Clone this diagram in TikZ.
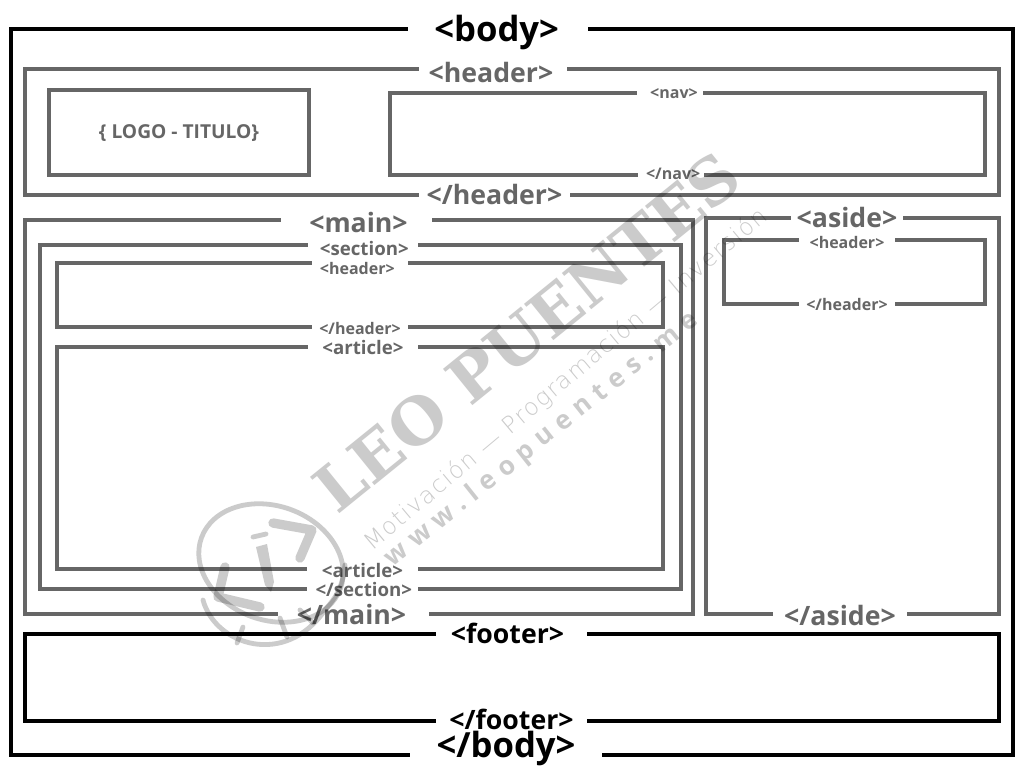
\documentclass[tikz,border=0pt]{standalone}
\usepackage{fontspec}
\setmainfont{Open Sans}
\newfontfamily\wmslab{DejaVu Serif}
\newfontfamily\wmthin[LetterSpace=6]{DejaVu Sans ExtraLight}
\newfontfamily\wmweb[LetterSpace=30]{Open Sans}
\usetikzlibrary{positioning}
\definecolor{tagg}{HTML}{666666}
\definecolor{wmk}{HTML}{CBCBCB}

\begin{document}
\begin{tikzpicture}[x=0.75pt,y=-0.75pt,
  bx/.style={draw=tagg,line width=3pt,anchor=north west,inner sep=0pt,outer sep=0pt},
  blk/.style={bx,draw=black},
  tg/.style={fill=white,inner sep=0pt,text=tagg,font=\bfseries},
  xl/.style={tg,font=\bfseries\fontsize{26}{26}\selectfont,text=black},
  lg/.style={tg,font=\bfseries\fontsize{20}{20}\selectfont},
  md/.style={tg,font=\bfseries\fontsize{14}{14}\selectfont},
  sm/.style={tg,font=\bfseries\fontsize{12}{12}\selectfont},
  wm/.style={line width=3.6pt,draw=wmk,line cap=round,line join=round}]
\useasboundingbox (0,0) rectangle (1024,768);
\fill[white] (0,0) rectangle (1024,768);
% outer boxes
\node[blk,minimum width=751.5pt,minimum height=544.5pt] (body) at (11,29) {};
\node[xl,minimum width=135pt] (bodyo) at (498,32) {\kern-2pt<body>};
\node[xl,minimum width=144pt] (bodyc) at (506,748) {</body>};
\node[bx,minimum width=730.5pt,minimum height=94.5pt] (hdr) at (25,69) {};
\node[lg,minimum width=111pt] (hdro) at (493,72) {\kern-3pt<header>};
\node[lg,minimum width=113pt] (hdrc) at (494.5,194) {</header>};
\node[bx,minimum width=195pt,minimum height=63.75pt] (logo) at (49,90) {};
\node[md,fill=none,font=\bfseries\fontsize{14.4}{14.4}\selectfont] (logot) at (179,133) {\{ LOGO - TITULO\}};
\node[bx,minimum width=446.25pt,minimum height=61.5pt] (nav) at (390,93) {};
\node[sm,minimum width=49.5pt] (navo) at (670,94) {\kern6pt<nav>};
\node[sm,minimum width=49.5pt] (navc) at (670.5,174) {\kern4pt</nav>};
% main column
\node[bx,minimum width=501pt,minimum height=295.5pt] (main) at (25,220) {};
\node[lg,minimum width=113pt] (maino) at (356.5,222) {\kern3pt<main>};
\node[lg,minimum width=113pt] (mainc) at (353.5,614) {\kern-3pt</main>};
\node[bx,minimum width=480.75pt,minimum height=258pt] (sect) at (40,245) {};
\node[bx,minimum width=454.5pt,minimum height=48pt] (shdr) at (57,263) {};
\node[bx,minimum width=454.5pt,minimum height=166.5pt] (art) at (57,347) {};
\node[md,minimum width=82.5pt] (secto) at (363,248) {\kern2pt<section>};
\node[sm,minimum width=72pt,minimum height=16pt] (shdro) at (360,268) {\kern-4pt<header>};
\node[sm,minimum width=72pt] (shdrc) at (360,328) {</header>};
\node[md,minimum width=82.5pt] (arto) at (363,347) {<article>};
\node[md,minimum width=83pt] (artc) at (362.5,570) {<article>};
\node[md,minimum width=83pt] (sectc) at (362.5,589) {\kern2pt</section>};
% aside column
\node[bx,minimum width=219.75pt,minimum height=297pt] (asd) at (706,218) {};
\node[lg,minimum width=84pt] (asdo) at (847,217) {<aside>};
\node[lg,minimum width=100pt] (asdc) at (840,615) {</aside>};
\node[bx,minimum width=195.75pt,minimum height=48pt] (ahdr) at (724,240) {};
\node[sm,minimum width=72pt] (ahdro) at (847,242) {<header>};
\node[sm,minimum width=72pt] (ahdrc) at (847,304) {</header>};
% footer
\node[blk,minimum width=730.5pt,minimum height=65.25pt] (ftr) at (25,634) {};
\node[lg,text=black,minimum width=113pt] (ftro) at (511.5,633) {\kern-6pt<footer>};
\node[lg,text=black,minimum width=113pt] (ftrc) at (511.5,719) {</footer>};
% watermark
\begin{scope}[blend mode=multiply]
\node[rotate=39,text=wmk,inner sep=0pt] (wmname) at (527,332) {\wmslab\bfseries\fontsize{48}{48}\selectfont LEO PUENTES};
\node[rotate=40,text=wmk,inner sep=0pt] (wmmot) at (566,380) {\wmthin\fontsize{17.6}{17.6}\selectfont Motivación — Programación — Inversión};
\node[rotate=38.5,text=wmk,inner sep=0pt] (wmweb) at (542,440) {\wmweb\bfseries\fontsize{19.6}{19.6}\selectfont www.leopuentes.me};
\draw[wm] (271,563) ellipse[x radius=74,y radius=57,rotate=-20];
\draw[wm] (203,600) .. controls (215,645) and (285,668) .. (325,610) .. controls (335,598) and (342,590) .. (345,565);
\draw[wm] (243,627) -- (237,643) (280,618) -- (287,637) (300,610) -- (313,623);
\draw[wm,line width=7pt] (225,567) -- (218,597) -- (260,607);
\draw[wm,line width=7pt] (273,523) -- (312,530) -- (300,558);
\fill[wmk] (256,547) -- (267,544) -- (274,582) -- (271,592) -- (265,585) -- cycle;
\draw[wm,line width=3.6pt] (253,537) -- (266,534);
\end{scope}
\end{tikzpicture}
\end{document}
